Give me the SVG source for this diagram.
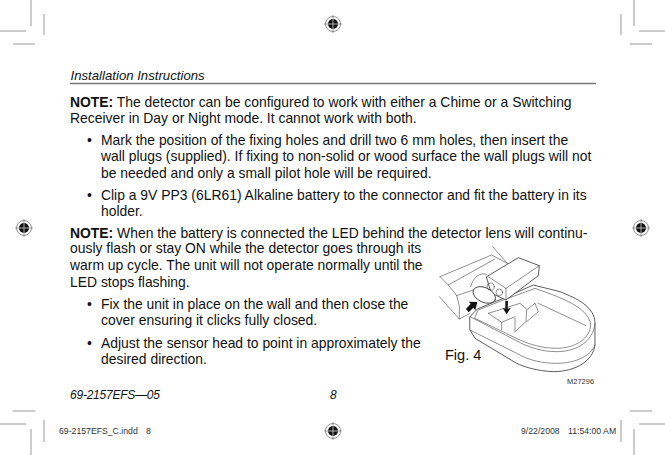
<svg xmlns="http://www.w3.org/2000/svg" width="665" height="455" viewBox="0 0 665 455">
<style>
text{font-family:"Liberation Sans",Arial,sans-serif;fill:#111}
.b{font-size:13.9px}
.i{font-size:13.2px;font-style:italic}
.f{font-size:12px;font-style:italic}
.s{font-size:8.700px;fill:#333}
.h{font-weight:bold}
.c{stroke:#999;stroke-width:1;fill:none}
.d{fill:#fff;stroke:#333;stroke-width:2.400;stroke-linejoin:round;stroke-linecap:round}
.l{fill:none;stroke:#444;stroke-width:1.800;stroke-linecap:round;stroke-linejoin:round}
</style>
<defs>
<g id="reg"><circle r="7.500" fill="#fff" stroke="#777" stroke-width=".8"/><circle r="5" fill="#111"/><path d="M-9 0H9M0-9V9" stroke="#777" stroke-width=".7"/><path d="M-5 0H5M0-5V5" stroke="#ddd" stroke-width=".5"/></g>
</defs>
<rect width="665" height="455" fill="#fff"/>
<g id="crop-marks">
<path class="c" d="M31 0V26M0 31H26M44 14V35M13 44H35"/>
<path class="c" d="M634 0V26M639 31H665M621 14V35M630 44H652"/>
<path class="c" d="M31 429V455M0 424H26M44 420V442M13 411H35"/>
<path class="c" d="M634 429V455M639 424H665M621 420V442M630 411H652"/>
</g>
<g id="registration-marks">
<use href="#reg" x="333" y="24"/><use href="#reg" x="24" y="228"/><use href="#reg" x="641" y="228"/><use href="#reg" x="333" y="431"/>
</g>
<g id="header">
<text class="i" x="70.500" y="80">Installation Instructions</text>
<path d="M70 83.500H596" stroke="#777" stroke-width="1.400"/>
</g>
<g id="body">
<text class="b" x="70" y="107"><tspan class="h">NOTE:</tspan> The detector can be configured to work with either a Chime or a Switching</text>
<text class="b" x="70" y="123">Receiver in Day or Night mode. It cannot work with both.</text>
<text class="b" x="87" y="145">•</text>
<text class="b" x="101" y="145">Mark the position of the fixing holes and drill two 6 mm holes, then insert the</text>
<text class="b" x="101" y="161">wall plugs (supplied). If fixing to non-solid or wood surface the wall plugs will not</text>
<text class="b" x="101" y="178">be needed and only a small pilot hole will be required.</text>
<text class="b" x="87" y="200">•</text>
<text class="b" x="101" y="200">Clip a 9V PP3 (6LR61) Alkaline battery to the connector and fit the battery in its</text>
<text class="b" x="101" y="216">holder.</text>
<text class="b" x="70" y="238"><tspan class="h">NOTE:</tspan> When the battery is connected the LED behind the detector lens will continu-</text>
<text class="b" x="70" y="253">ously flash or stay ON while the detector goes through its</text>
<text class="b" x="70" y="270">warm up cycle. The unit will not operate normally until the</text>
<text class="b" x="70" y="287">LED stops flashing.</text>
<text class="b" x="87" y="309">•</text>
<text class="b" x="101" y="309">Fix the unit in place on the wall and then close the</text>
<text class="b" x="101" y="325">cover ensuring it clicks fully closed.</text>
<text class="b" x="87" y="348">•</text>
<text class="b" x="101" y="348">Adjust the sensor head to point in approximately the</text>
<text class="b" x="101" y="364">desired direction.</text>
</g>
<g id="figure" transform="translate(420 235) scale(.3333)">
<path class="l" d="M60 125L215 60L262 85M218 35L262 85M85 150L225 72M60 125L85 150M85 150L110 182M58 185L118 252L150 235M118 252V212L110 182L160 165"/>
<path class="d" d="M150 245L172 222L250 190L340 150L420 170C470 190 525 215 525 265V330C520 375 470 410 400 410C350 408 310 395 290 385L165 310L150 285Z"/>
<path class="l" d="M150 245L285 315C330 340 370 350 410 350C470 350 520 320 525 265M150 285L290 355C330 378 370 385 410 385C470 385 515 360 525 330M165 250L285 308C330 330 370 340 410 340C465 340 512 310 512 268C505 225 450 200 400 180L345 160L250 195L175 225Z"/>
<path class="l" d="M355 205L498 272M345 205L320 225L318 260L285 290M205 235L300 205L320 222M245 262L285 245M345 205L355 230L320 260M285 250V290M205 235L245 262V285"/>
<path class="d" d="M200 125L295 68L358 92L355 122L258 195L215 175Z"/>
<path class="l" d="M258 160L358 92M258 160V195M205 125L258 160"/>
<path class="l" d="M152 155C160 125 180 112 200 118"/>
<ellipse class="d" cx="193" cy="180" rx="36" ry="22" transform="rotate(25 193 180)"/>
<circle class="l" cx="212" cy="155" r="11"/>
<circle class="l" cx="238" cy="172" r="10"/>
<path d="M138 222L152 206L146 200L172 201L166 226L160 218L146 232Z" fill="#111"/>
<path d="M256 198H264L263 221L272 219L260 238L248 219L256 221Z" fill="#111"/>
</g>
<g id="figure-labels">
<text x="445" y="360" font-size="14.500">Fig. 4</text>
<text class="s" x="567" y="383.500" style="font-size:7.500px">M27296</text>
</g>
<g id="footer">
<text class="f" x="70" y="399" textLength="90" lengthAdjust="spacing">69-2157EFS—05</text>
<text class="f" x="330" y="399">8</text>
<text class="s" x="59" y="434">69-2157EFS_C.indd</text>
<text class="s" x="146" y="434">8</text>
<text class="s" x="521" y="434">9/22/2008</text>
<text class="s" x="568" y="434">11:54:00 AM</text>
</g>
</svg>
